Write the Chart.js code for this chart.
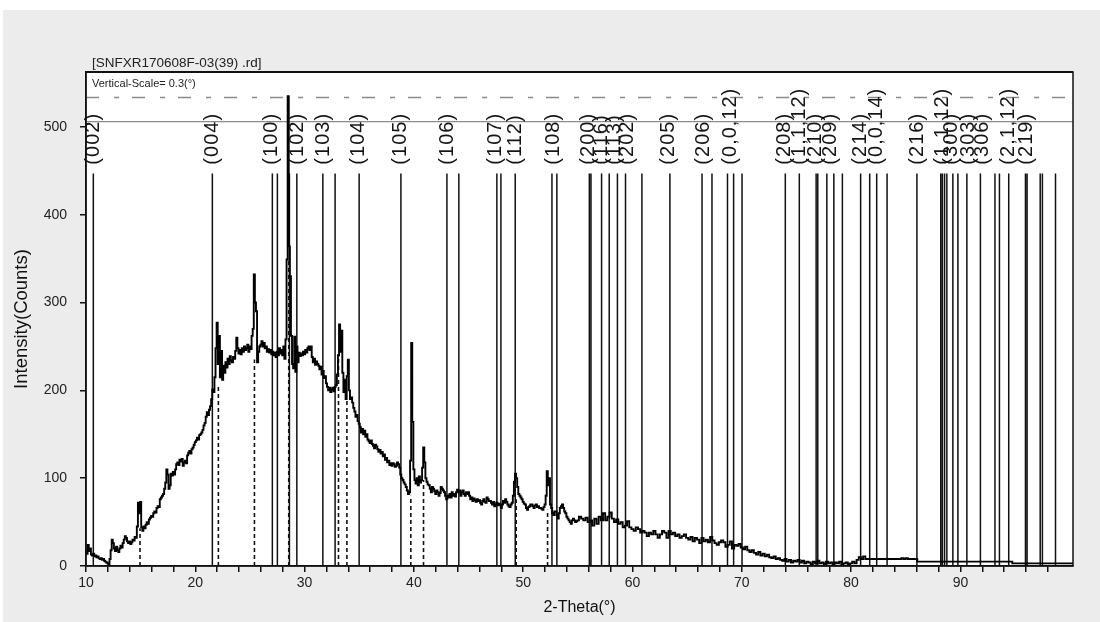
<!DOCTYPE html>
<html><head><meta charset="utf-8">
<script src="https://cdn.jsdelivr.net/npm/chart.js@4.4.0/dist/chart.umd.min.js"></script>
<style>
html,body{margin:0;padding:0;background:#fff;overflow:hidden;}
#panel{position:absolute;left:3px;top:10px;width:1097px;height:612px;background:#ececec;}
#c{position:absolute;left:0;top:0;}
</style></head><body>
<div id="panel"></div>
<canvas id="c" width="1100" height="622"></canvas>
<script>
// ---- measured pattern (counts), 10.0–54.9 deg at 0.1 deg steps ----
const scanAStart = 10.0, scanAStep = 0.1;
const countsA = [
18,14,24,17,20,13,12,14,11,12,
10,11,9,8,9,7,8,6,5,4,
3,2,8,18,30,26,20,17,22,18,
16,20,23,21,26,30,34,32,28,26,
28,25,27,30,29,33,32,45,72,60,
73,44,40,45,43,47,50,48,53,55,
57,56,60,62,61,66,68,67,76,78,
80,82,88,95,110,104,88,92,105,103,
107,104,110,116,118,115,121,119,122,114,
118,120,117,126,129,131,128,133,135,138,
141,143,146,144,149,150,152,155,160,163,
170,175,172,178,182,190,201,198,215,248,
277,230,262,215,245,212,228,220,232,226,
236,230,239,234,232,238,236,245,260,248,
242,246,241,248,244,250,246,248,252,244,
250,247,262,270,332,300,290,232,244,250,
252,256,250,254,248,250,244,247,243,246,
241,244,240,243,238,244,240,248,242,246,
240,250,236,258,349,535,364,330,262,230,
225,261,221,250,232,243,239,242,240,244,
241,246,243,248,250,246,250,238,232,236,
229,233,230,228,224,227,218,222,214,216,
208,204,200,203,198,201,203,199,204,206,
218,240,275,244,268,220,198,212,190,216,
235,200,190,192,186,180,176,170,172,165,
162,158,152,156,150,154,147,150,144,142,
140,143,139,137,134,138,136,133,130,132,
128,130,125,127,121,123,118,120,115,117,
114,117,116,113,114,118,116,112,104,100,
98,95,93,90,86,82,84,120,254,164,
110,98,94,100,92,102,95,98,112,135,
118,100,96,93,92,88,84,90,88,85,
82,86,84,80,83,90,88,86,84,80,
76,80,78,82,78,84,80,82,79,84,
87,84,86,80,84,86,82,80,84,82,
84,80,76,78,74,77,75,73,76,74,
75,72,70,74,76,73,72,78,76,74,
74,72,70,73,68,70,72,69,71,69,
66,70,74,72,76,73,70,68,67,70,
72,80,96,105,100,90,82,80,78,76,
73,71,70,66,64,67,68,70,70,68,
66,69,70,67,68,66,66,65,64,67,
70,80,108,92,100,70,66,60,58,62,
62,58,54,60,66,68,70,66,62,60,
56,54,52,50,48,52,54,52,50,51
];
// ---- 55.0–81.4 deg at 0.2 deg steps ----
const scanBStart = 55.0, scanBStep = 0.2;
const countsB = [
52,56,54,52,55,50,52,46,54,48,
56,52,60,52,56,61,54,50,53,48,
50,44,46,51,44,42,40,44,42,38,
40,38,34,38,36,40,36,32,36,40,
38,32,40,36,38,34,36,32,34,36,
32,30,33,28,32,30,26,32,28,30,
27,33,29,26,24,27,29,27,22,24,
28,20,24,23,25,21,19,22,18,16,
18,15,13,16,12,14,11,13,10,9,
11,8,9,7,6,8,5,7,4,6,
5,7,4,6,3,5,4,2,5,3,
6,3,4,2,5,3,4,2,4,3,
5,2,3,4,2,3,5,3,7,10,
8,11,8
];
// ---- tail of the scan ----
const tailTheta  = [81.6, 82.5, 83.5, 84.5, 84.7, 84.9, 85.1, 85.3, 85.5, 86.6, 88, 90, 92, 94, 95.5, 97, 98.5, 100.3];
const tailCounts = [8, 8, 8, 8, 9, 8, 9, 8, 8, 5, 5, 5, 5, 5, 3, 3, 3, 3];

// ---- reference pattern lines (2-theta) ----
const refPositions = [10.67, 21.56, 27.05, 27.51, 28.61, 29.29, 31.67, 32.79, 34.99, 38.81, 43.02, 44.11,
  47.59, 47.96, 49.27, 52.63, 53.08, 56.05, 56.2, 57.17, 57.87, 58.62, 59.36, 60.86, 63.42, 66.36, 67.27,
  68.69, 69.25, 70.02, 73.98, 75.26, 76.8, 76.95, 77.78, 78.42, 79.2, 80.87, 81.7, 82.34, 83.29, 86.02,
  88.2, 88.35, 88.55, 88.76, 89.31, 89.77, 90.59, 91.83, 93.16, 93.57, 94.42, 95.95, 96.1, 97.3, 97.5, 98.7];
const refHeight = 447;

// ---- peak markers (dashed) ----
const peakPositions = [14.94, 22.11, 25.41, 28.55, 33.1, 33.87, 39.72, 40.88, 49.36, 52.23];
const peakHeights   = [43, 204, 235, 349, 238, 190, 80, 98, 76, 64];

// ---- hkl labels ----
const hklPositions = [10.64, 21.53, 26.93, 29.31, 31.69, 34.9, 38.74, 43.04, 47.44, 49.27, 52.75, 55.95,
  57.14, 58.33, 59.52, 63.27, 66.48, 68.95, 73.89, 75.26, 76.7, 78.1, 80.87, 82.3, 86.06, 88.35, 89.2, 90.7, 92.0, 94.42, 96.0];
const hklLabels = ['(002)','(004)','(100)','(102)','(103)','(104)','(105)','(106)','(107)','(112)','(108)','(200)',
  '(116)','(113)','(202)','(205)','(206)','(0,0,12)','(208)','(1,1,12)','(210)','(209)','(214)','(0,0,14)','(216)','(1,1,12)','(300)','(303)','(306)','(2,1,12)','(219)'];

// ---- axis ticks ----
const xTickValues = [10,12,14,16,18,20,22,24,26,28,30,32,34,36,38,40,42,44,46,48,50,52,54,56,58,60,62,64,66,68,70,72,74,76,78,80,82,84,86,88,90,92,94,96,98];
const xLabelled = [10,20,30,40,50,60,70,80,90];
const yTickValues = [0,100,200,300,400,500];

const maxLine = 533.5;   // dash-dot line level
const cursorLine = 506;  // grey line level
const X_MIN = 10, X_MAX = 100.3, Y_MAX = 562.5;

// build series
const scan = [];
countsA.forEach((c,i)=>scan.push({x:+(scanAStart+i*scanAStep).toFixed(2), y:c}));
countsB.forEach((c,i)=>scan.push({x:+(scanBStart+i*scanBStep).toFixed(2), y:c}));
tailTheta.forEach((t,i)=>scan.push({x:t, y:tailCounts[i]}));

const refData = [];
refPositions.forEach(p=>{ refData.push({x:p,y:0},{x:p,y:refHeight},{x:p,y:null}); });
const peakData = [];
peakPositions.forEach((p,i)=>{ peakData.push({x:p,y:0},{x:p,y:peakHeights[i]},{x:p,y:null}); });

const FONT = '"Liberation Sans", Arial, sans-serif';

const decor = {
  id:'decor',
  beforeDraw(chart){
    const {ctx, chartArea:a} = chart;
    ctx.save(); ctx.fillStyle='#fff'; ctx.fillRect(a.left,a.top,a.right-a.left,a.bottom-a.top); ctx.restore();
  },
  afterDatasetsDraw(chart){
    const {ctx, chartArea:a, scales:{x,y}} = chart;
    ctx.save();
    ctx.fillStyle='#151515';
    ctx.font = '20px '+FONT;
    try{ ctx.letterSpacing='1px'; }catch(e){}
    ctx.textBaseline='middle'; ctx.textAlign='left';
    const yb = y.getPixelForValue(457);
    hklPositions.forEach((p,i)=>{
      const px = x.getPixelForValue(p);
      ctx.save(); ctx.translate(px, yb); ctx.rotate(-Math.PI/2); ctx.fillText(hklLabels[i],0,0); ctx.restore();
    });
    ctx.restore();
  },
  afterDraw(chart){
    const {ctx, chartArea:a} = chart;
    ctx.save();
    ctx.strokeStyle='#111'; ctx.lineWidth=1.5;
    ctx.strokeRect(a.left, a.top, a.right-a.left, a.bottom-a.top);
    ctx.lineWidth=2; ctx.beginPath(); ctx.moveTo(a.left,a.top); ctx.lineTo(a.right,a.top); ctx.stroke();
    ctx.fillStyle='#222'; ctx.textBaseline='middle'; ctx.textAlign='left';
    ctx.font='13.5px '+FONT;
    ctx.fillText('[SNFXR170608F-03(39) .rd]', a.left+6, a.top-9);
    ctx.font='11px '+FONT;
    ctx.fillText('Vertical-Scale= 0.3(\u00b0)', a.left+6, a.top+12);
    ctx.restore();
  }
};

new Chart(document.getElementById('c'), {
  type:'line',
  data:{datasets:[
    {label:'scan', data:scan, borderColor:'#000', borderWidth:1.9, pointRadius:0, stepped:'middle', fill:false, order:1},
    {label:'ref', data:refData, borderColor:'#111', borderWidth:1.5, pointRadius:0, spanGaps:false, order:3},
    {label:'peaks', data:peakData, borderColor:'#111', borderWidth:1.6, borderDash:[4,3], pointRadius:0, spanGaps:false, order:2},
    {label:'max', data:[{x:X_MIN,y:maxLine},{x:X_MAX,y:maxLine}], borderColor:'#8a8a8a', borderWidth:1.5, borderDash:[13,15,5,13], pointRadius:0, order:4},
    {label:'cursor', data:[{x:X_MIN,y:cursorLine},{x:X_MAX,y:cursorLine}], borderColor:'#8c8c8c', borderWidth:1.3, pointRadius:0, order:4}
  ]},
  options:{
    responsive:false, animation:false, devicePixelRatio:1,
    layout:{padding:{left:0,right:27,top:72,bottom:0}},
    plugins:{legend:{display:false}, tooltip:{enabled:false}, title:{display:false}},
    scales:{
      x:{type:'linear', min:X_MIN, max:X_MAX,
        afterBuildTicks(s){ s.ticks = xTickValues.map(v=>({value:v})); },
        afterFit(s){ s.height = 56; },
        ticks:{autoSkip:false, maxRotation:0, padding:3, color:'#222', font:{family:FONT,size:14},
          callback:(v)=> xLabelled.includes(v) ? String(v) : ''},
        grid:{drawOnChartArea:false, drawTicks:true, tickLength:6, color:'#111', lineWidth:1.5},
        border:{display:true, color:'#111', width:1.5},
        title:{display:true, text:'2-Theta(\u00b0)', color:'#111', font:{family:FONT,size:16,lineHeight:1}, padding:{top:0,bottom:6}}
      },
      y:{type:'linear', min:0, max:Y_MAX,
        afterBuildTicks(s){ s.ticks = yTickValues.map(v=>({value:v})); },
        afterFit(s){ s.width = 86; },
        ticks:{padding:13, color:'#222', font:{family:FONT,size:14}},
        grid:{drawOnChartArea:false, drawTicks:true, tickLength:6, color:'#111', lineWidth:1.5},
        border:{display:true, color:'#111', width:1.5},
        title:{display:true, text:'Intensity(Counts)', color:'#111', font:{family:FONT,size:18.5,lineHeight:1}, padding:{top:12.5,bottom:0}}
      }
    }
  },
  plugins:[decor]
});
</script>
</body></html>
